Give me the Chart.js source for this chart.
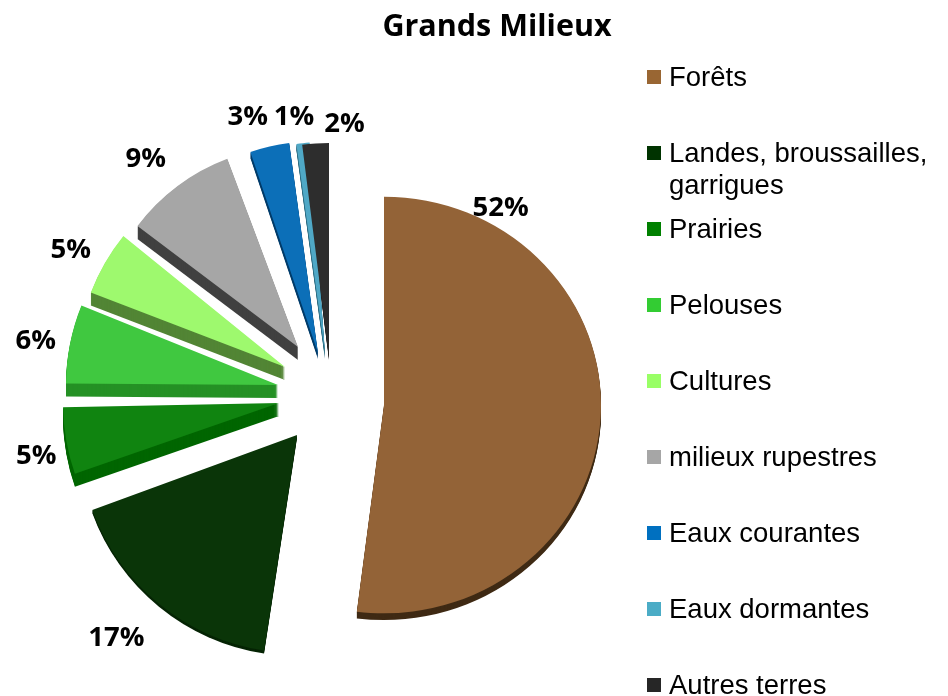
<!DOCTYPE html>
<html>
<head>
<meta charset="utf-8">
<style>html,body{margin:0;padding:0;background:#fff}canvas{display:block}</style>
<script src="https://cdn.jsdelivr.net/npm/chart.js@4/dist/chart.umd.min.js"></script>
</head>
<body>
<canvas id="c" width="948" height="696"></canvas>
<script>
const chartTitle = "Grands Milieux";
const categories = ["Forêts", "Landes, broussailles, garrigues", "Prairies", "Pelouses", "Cultures", "milieux rupestres", "Eaux courantes", "Eaux dormantes", "Autres terres"];
const legendLines = [["Forêts"], ["Landes, broussailles,", "garrigues"], ["Prairies"], ["Pelouses"], ["Cultures"], ["milieux rupestres"], ["Eaux courantes"], ["Eaux dormantes"], ["Autres terres"]];
const values = [52, 17, 5, 6, 5, 9, 3, 1, 2];
const sliceColors = ["#936337", "#0a3508", "#108410", "#40c840", "#9ef96e", "#a6a6a6", "#0c6fb8", "#4fa8c6", "#2d2d2d"];
const sideColors = ["#3f2a14", "#052404", "#006600", "#259125", "#528535", "#404040", "#003c6a", "#2b6a80", "#1a1a1a"];
const legendColors = ["#996633", "#003300", "#008000", "#33cc33", "#99ff66", "#a6a6a6", "#0070c0", "#4bacc6", "#262626"];
const explodeX = [48, -39, -57, -58, -51, -38, -18, -11, -7];
const explodeY = [9, 39, 7, -11, -29, -49, -43, -43, -39];
const sliceReach = [217, 218, 216, 212, 208, 201, 212, 211, 214];
const sliceSquash = [0.96, 1, 1, 1, 1, 1, 1, 1, 1];
const sliceTurn = [0, 1.5, 2.5, 4, 3, 1, 3, 3, 0];
const sideDepth = [7, 3, 13, 13, 13, 13, 6, 6, 3];
const labelNudgeX = [-100, -47, -32, -32, -29, -29, -11, 2, 29];
const labelNudgeY = [-210, 31, 6, -17, -22, -29, -32, -27, -19];

class ExplodedPie extends Chart.PieController {
  draw() {
    const ctx = this.chart.ctx;
    const arcs = this.getMeta().data;
    const place = (a, i) => {
      ctx.translate(a.x + explodeX[i], a.y + explodeY[i]);
      ctx.scale(1, sliceSquash[i]);
      ctx.translate(-a.x, -a.y);
    };
    const turn = (a, i) => {
      ctx.translate(a.x, a.y);
      ctx.rotate(sliceTurn[i] * Math.PI / 180);
      ctx.translate(-a.x, -a.y);
    };
    arcs.forEach((a, i) => {
      a.outerRadius = sliceReach[i];
      ctx.save();
      place(a, i);
      ctx.translate(0, sideDepth[i]);
      for (let d = sideDepth[i]; d >= 1; d--) {
        ctx.save();
        turn(a, i);
        ctx.fillStyle = sideColors[i];
        ctx.beginPath();
        ctx.moveTo(a.x, a.y);
        ctx.arc(a.x, a.y, a.outerRadius, a.startAngle, a.endAngle);
        ctx.closePath();
        ctx.fill();
        ctx.restore();
        ctx.translate(0, -1);
      }
      ctx.restore();
    });
    arcs.forEach((a, i) => {
      ctx.save();
      place(a, i);
      turn(a, i);
      a.draw(ctx);
      ctx.restore();
    });
  }
}
ExplodedPie.id = "explodedPie";
Chart.register(ExplodedPie);

const texts = {
  id: "texts",
  afterDraw(chart) {
    const ctx = chart.ctx;
    ctx.save();
    ctx.fillStyle = "#000";
    ctx.textBaseline = "middle";
    ctx.textAlign = "center";
    ctx.font = "bold 30.5px 'Open Sans'";
    ctx.fillText(chartTitle, 497, 27);
    ctx.font = "bold 27.5px 'Open Sans'";
    const total = values.reduce((s, v) => s + v, 0);
    chart.getDatasetMeta(0).data.forEach((a, i) => {
      const mid = (a.startAngle + a.endAngle) / 2;
      ctx.fillText(Math.round(values[i] / total * 100) + "%",
        a.x + explodeX[i] + Math.cos(mid) * a.outerRadius + labelNudgeX[i],
        a.y + explodeY[i] + Math.sin(mid) * a.outerRadius + labelNudgeY[i]);
    });
    ctx.textAlign = "left";
    ctx.font = "27.5px 'Liberation Sans'";
    legendLines.forEach((lines, i) => {
      const y = 77 + i * 76;
      ctx.fillStyle = legendColors[i];
      ctx.fillRect(647, y - 7, 14, 14);
      ctx.fillStyle = "#000";
      lines.forEach((t, j) => ctx.fillText(t, 669, y + 1 + j * 32));
    });
    ctx.restore();
  }
};
new Chart(document.getElementById("c"), {
  type: "explodedPie",
  data: {
    labels: categories,
    datasets: [{ data: values, backgroundColor: sliceColors, borderWidth: 0, radius: 208 }]
  },
  options: {
    responsive: false,
    animation: false,
    layout: { padding: { left: 0, right: 276, top: 96, bottom: 0 } },
    plugins: { legend: { display: false }, title: { display: false }, tooltip: { enabled: false } }
  },
  plugins: [texts]
});
</script>
</body>
</html>
